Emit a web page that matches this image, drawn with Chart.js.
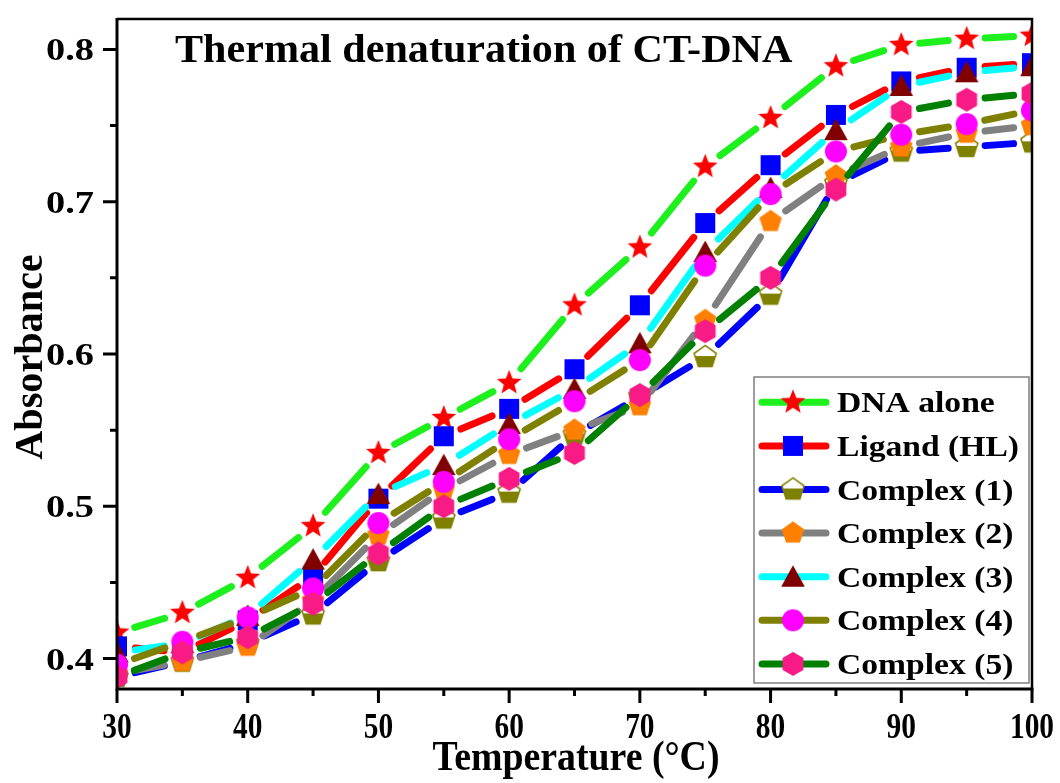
<!DOCTYPE html>
<html>
<head>
<meta charset="utf-8">
<title>Thermal denaturation of CT-DNA</title>
<script src="https://cdn.jsdelivr.net/npm/chart.js@4.4.1/dist/chart.umd.min.js"></script>
<style>
  html, body { margin: 0; padding: 0; background: #fff; }
  #wrap { width: 1060px; height: 783px; }
</style>
</head>
<body>
<div id="wrap"><canvas id="chart" width="1060" height="783"></canvas></div>
<script>
// temperature (°C) and absorbance readings
const temps = [30, 35, 40, 45, 50, 55, 60, 65, 70, 75, 80, 85, 90, 95, 100];
const dnaAlone = [0.417, 0.430, 0.453, 0.487, 0.535, 0.558, 0.581, 0.632, 0.670, 0.723, 0.755, 0.789, 0.803, 0.807, 0.809];
const ligandHL = [0.408, 0.404, 0.425, 0.454, 0.505, 0.546, 0.564, 0.590, 0.632, 0.686, 0.724, 0.757, 0.779, 0.788, 0.791];
const complex1 = [0.388, 0.398, 0.410, 0.429, 0.464, 0.492, 0.509, 0.547, 0.572, 0.598, 0.639, 0.712, 0.733, 0.736, 0.739];
const complex2 = [0.390, 0.398, 0.408, 0.438, 0.481, 0.511, 0.534, 0.550, 0.566, 0.622, 0.687, 0.717, 0.736, 0.745, 0.750];
const complex3 = [0.404, 0.410, 0.428, 0.465, 0.508, 0.527, 0.554, 0.577, 0.607, 0.667, 0.709, 0.747, 0.776, 0.785, 0.789];
const complex4 = [0.396, 0.411, 0.427, 0.446, 0.489, 0.516, 0.544, 0.569, 0.596, 0.658, 0.705, 0.733, 0.744, 0.751, 0.760];
const complex5 = [0.388, 0.404, 0.414, 0.436, 0.469, 0.500, 0.518, 0.535, 0.573, 0.615, 0.650, 0.708, 0.759, 0.767, 0.771];

const seriesNames = ['DNA alone', 'Ligand (HL)', 'Complex (1)', 'Complex (2)', 'Complex (3)', 'Complex (4)', 'Complex (5)'];
const xTicks = [30, 40, 50, 60, 70, 80, 90, 100];
const yTicks = [0.4, 0.5, 0.6, 0.7, 0.8];

const serif = '"Liberation Serif", "Times New Roman", serif';
const lineW = 7;
const symbolGap = 15;

// symbol sprites
function sprite(draw) {
  const c = document.createElement('canvas');
  c.width = 30; c.height = 30;
  const g = c.getContext('2d');
  g.translate(15, 15);
  draw(g);
  return c;
}
function poly(g, n, r, rot) {
  g.beginPath();
  for (let i = 0; i < n; i++) {
    const a = rot + i * 2 * Math.PI / n;
    g.lineTo(r * Math.cos(a), r * Math.sin(a));
  }
  g.closePath();
}
const starMark = sprite(g => {
  g.beginPath();
  for (let i = 0; i < 10; i++) {
    const r = i % 2 ? 5.6 : 13;
    const a = -Math.PI / 2 + i * Math.PI / 5;
    g.lineTo(r * Math.cos(a), r * Math.sin(a));
  }
  g.closePath();
  g.fillStyle = '#ff0000';
  g.fill();
});
const squareMark = sprite(g => {
  g.fillStyle = '#0000ff';
  g.fillRect(-10, -10, 20, 20);
});
const halfPentMark = sprite(g => {
  poly(g, 5, 11.6, -Math.PI / 2);
  g.fillStyle = '#ffffff';
  g.fill();
  g.save();
  g.clip();
  g.fillStyle = '#808000';
  g.fillRect(-15, -1, 30, 16);
  g.restore();
  poly(g, 5, 11.6, -Math.PI / 2);
  g.strokeStyle = '#808000';
  g.lineWidth = 1.6;
  g.stroke();
});
const pentMark = sprite(g => {
  poly(g, 5, 11.8, -Math.PI / 2);
  g.fillStyle = '#ff8000';
  g.fill();
});
const triMark = sprite(g => {
  g.beginPath();
  g.moveTo(0, -11.5);
  g.lineTo(11.8, 10);
  g.lineTo(-11.8, 10);
  g.closePath();
  g.fillStyle = '#800000';
  g.fill();
});
const circleMark = sprite(g => {
  g.beginPath();
  g.arc(0, 0, 11, 0, 2 * Math.PI);
  g.fillStyle = '#ff00ff';
  g.fill();
});
const hexMark = sprite(g => {
  poly(g, 6, 12, -Math.PI / 2);
  g.fillStyle = '#f81a85';
  g.fill();
});

const lineColors = ['#1ef01e', '#ff0000', '#0000ff', '#808080', '#00ffff', '#808000', '#008000'];
const marks = [starMark, squareMark, halfPentMark, pentMark, triMark, circleMark, hexMark];
const values = [dnaAlone, ligandHL, complex1, complex2, complex3, complex4, complex5];

// each segment is stroked as a single dash that stops short of both symbols
function gapDash(ctx) {
  const len = Math.hypot(ctx.p1.x - ctx.p0.x, ctx.p1.y - ctx.p0.y);
  const start = symbolGap + lineW / 2;
  return { dash: [Math.max(0.01, len - 2 * start), 5000 + ctx.p0DataIndex], offset: -start };
}

const datasets = values.map((vals, i) => ({
  label: seriesNames[i],
  data: temps.map((t, k) => ({ x: t, y: vals[k] })),
  borderColor: lineColors[i],
  borderWidth: lineW,
  borderCapStyle: 'round',
  pointStyle: marks[i],
  pointRadius: 12,
  tension: 0,
  fill: false,
  clip: 0,
  order: values.length - i,
  segment: {
    borderDash: ctx => gapDash(ctx).dash,
    borderDashOffset: ctx => gapDash(ctx).offset
  }
}));

function stretchText(ctx, text, x, y, font, sx, align) {
  ctx.save();
  ctx.font = font;
  const w = ctx.measureText(text).width * sx;
  const left = align === 'center' ? x - w / 2 : align === 'right' ? x - w : x;
  ctx.translate(left, y);
  ctx.scale(sx, 1);
  ctx.textAlign = 'left';
  ctx.textBaseline = 'alphabetic';
  ctx.fillStyle = '#000';
  ctx.fillText(text, 0, 0);
  ctx.restore();
}

// axes box, ticks, labels, title and legend
const decorations = {
  id: 'decorations',
  afterDraw(chart) {
    const { ctx, chartArea: a, scales: { x, y } } = chart;
    ctx.save();
    ctx.strokeStyle = '#000';
    ctx.lineCap = 'butt';

    ctx.lineWidth = 2.5;
    ctx.beginPath();
    ctx.moveTo(a.left, a.top);
    ctx.lineTo(a.right, a.top);
    ctx.lineTo(a.right, a.bottom);
    ctx.stroke();

    ctx.lineWidth = 3;
    ctx.beginPath();
    ctx.moveTo(a.left, a.top - 1);
    ctx.lineTo(a.left, a.bottom);
    ctx.lineTo(a.right + 1.5, a.bottom);
    ctx.stroke();

    ctx.lineWidth = 3;
    ctx.beginPath();
    xTicks.forEach((v, i) => {
      const px = x.getPixelForValue(v);
      ctx.moveTo(px, a.bottom); ctx.lineTo(px, a.bottom + 14);
      if (i < xTicks.length - 1) {
        const mx = x.getPixelForValue((v + xTicks[i + 1]) / 2);
        ctx.moveTo(mx, a.bottom); ctx.lineTo(mx, a.bottom + 7);
      }
    });
    yTicks.forEach((v, i) => {
      const py = y.getPixelForValue(v);
      ctx.moveTo(a.left, py); ctx.lineTo(a.left - 14, py);
      if (i < yTicks.length - 1) {
        const my = y.getPixelForValue((v + yTicks[i + 1]) / 2);
        ctx.moveTo(a.left, my); ctx.lineTo(a.left - 7, my);
      }
    });
    ctx.stroke();

    xTicks.forEach(v => {
      stretchText(ctx, String(v), x.getPixelForValue(v), 738, 'bold 35px ' + serif, 0.84, 'center');
    });
    yTicks.forEach(v => {
      stretchText(ctx, v.toFixed(1), 94, y.getPixelForValue(v) + 11, 'bold 32px ' + serif, 1.2, 'right');
    });

    stretchText(ctx, 'Temperature (°C)', 576, 770, 'bold 42px ' + serif, 0.9, 'center');
    ctx.save();
    ctx.translate(42, 357);
    ctx.rotate(-Math.PI / 2);
    stretchText(ctx, 'Absorbance', 0, 0, 'bold 41px ' + serif, 0.98, 'center');
    ctx.restore();

    stretchText(ctx, 'Thermal denaturation of CT-DNA', 175, 62, 'bold 39px ' + serif, 1.08, 'left');

    // legend
    const box = { left: 754, top: 377, right: 1029, bottom: 683 };
    ctx.fillStyle = '#fff';
    ctx.fillRect(box.left, box.top, box.right - box.left, box.bottom - box.top);
    ctx.strokeStyle = '#808080';
    ctx.lineWidth = 1.5;
    ctx.strokeRect(box.left, box.top, box.right - box.left, box.bottom - box.top);
    seriesNames.forEach((name, i) => {
      const cy = 402.3 + i * 43.6;
      ctx.strokeStyle = lineColors[i];
      ctx.lineWidth = lineW;
      ctx.lineCap = 'round';
      ctx.beginPath();
      ctx.moveTo(762, cy);
      ctx.lineTo(826, cy);
      ctx.stroke();
      ctx.drawImage(marks[i], 793 - 15, cy - 15);
      stretchText(ctx, name, 837, cy + 10, 'bold 30px ' + serif, 1.12, 'left');
    });
    ctx.restore();
  }
};

new Chart(document.getElementById('chart'), {
  type: 'line',
  data: { datasets: datasets },
  options: {
    responsive: false,
    animation: false,
    layout: { padding: { left: 117, right: 28, top: 13, bottom: 94 } },
    scales: {
      x: { type: 'linear', min: 30, max: 100, display: false },
      y: { type: 'linear', min: 0.38, max: 0.82, display: false }
    },
    plugins: { legend: { display: false }, tooltip: { enabled: false } }
  },
  plugins: [decorations]
});
</script>
</body>
</html>
